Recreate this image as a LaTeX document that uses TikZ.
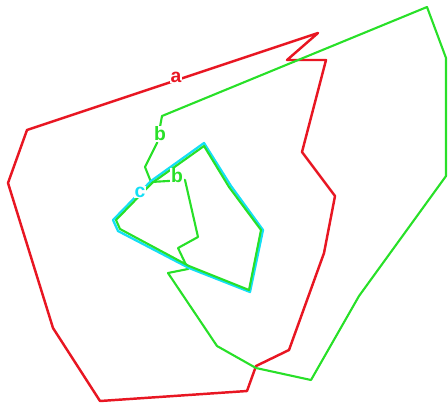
\documentclass[tikz,border=0pt]{standalone}
\usepackage{fontspec}
\setmainfont{Liberation Sans}
\usetikzlibrary{positioning}

\definecolor{linered}{RGB}{232,22,34}
\definecolor{linegreen}{RGB}{40,224,40}
\definecolor{linecyan}{RGB}{20,222,245}

\begin{document}
\begin{tikzpicture}[
    x=0.02cm, y=-0.02cm,
    edgea/.style={draw=linered, line width=1.4pt, line join=round},
    edgeb/.style={draw=linegreen, line width=1.2pt, line join=round},
    edgec/.style={draw=linecyan, line width=1.3pt, line join=round},
    lbl/.style={fill=white, inner sep=0.6pt, font=\bfseries\fontsize{11}{13}\selectfont}
  ]
    \useasboundingbox (0,0) rectangle (448,406);
    % polygon a
    \draw[edgea] (318,33) -- (287,60) -- (326,60) -- (302,152) -- (335,196)
      -- (324,253) -- (289,350) -- (256,366) -- (247,391) -- (100,401)
      -- (53,328) -- (8,183) -- (27,130) -- cycle;
    % polygon b
    \draw[edgeb] (427,7) -- (446,58) -- (446,176) -- (359,296) -- (311,380)
      -- (256,368) -- (217,346) -- (168,273) -- (188,269) -- (178,248)
      -- (198,237) -- (185,180) -- (151,182) -- (145,167) -- (157,143)
      -- (162,116) -- cycle;
    % polygon c, with b running along its inside
    \draw[edgec] (151,181) -- (204,143) -- (231,186) -- (263,230) -- (250,292)
      -- (189,268) -- (118,231) -- (113,220) -- cycle;
    \draw[edgeb] (152,183) -- (204,146) -- (229,187) -- (261,230) -- (249,290)
      -- (189,266) -- (120,229) -- (116,220) -- cycle;
    % labels
    \node[lbl, text=linered] (la) at (176,77) {a};
    \node[lbl, text=linegreen] (lb1) at (160,134) {b};
    \node[lbl, text=linegreen] (lb2) at (177,176) {b};
    \node[lbl, text=linecyan] (lc) at (140,192) {c};
\end{tikzpicture}
\end{document}
